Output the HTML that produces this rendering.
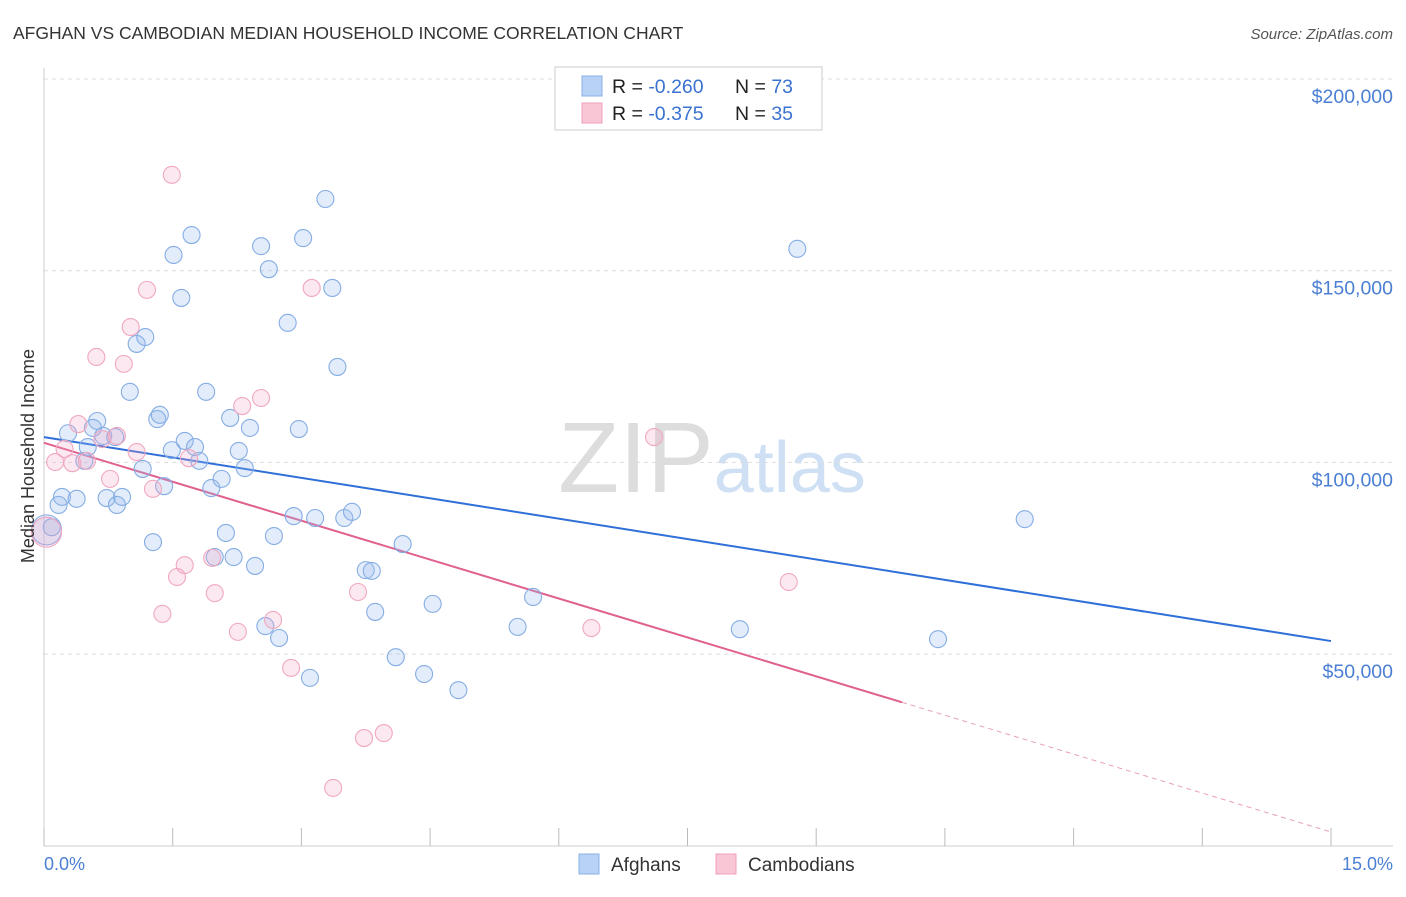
<!DOCTYPE html>
<html><head><meta charset="utf-8"><style>
body{margin:0;background:#fff;font-family:"Liberation Sans",sans-serif;}
svg text{font-family:"Liberation Sans",sans-serif;}
</style></head><body>
<svg id="chart" width="1406" height="892" xmlns="http://www.w3.org/2000/svg">
<text x="13" y="39" font-size="17.5" fill="#333">AFGHAN VS CAMBODIAN MEDIAN HOUSEHOLD INCOME CORRELATION CHART</text>
<text x="1393" y="39" font-size="15" fill="#555" font-style="italic" text-anchor="end">Source: ZipAtlas.com</text>
<text x="712" y="492" font-size="100" text-anchor="middle" fill="#ddd" font-family="Liberation Serif">ZIP<tspan fill="#cfe0f5" font-family="Liberation Sans" font-size="72">atlas</tspan></text>
<g id="grid"></g>
<g id="axes"></g>
<g id="lines"></g>
<g id="pts"></g>
<text transform="translate(34,456) rotate(-90)" font-size="18" fill="#333" text-anchor="middle">Median Household Income</text>
<text x="44" y="870" font-size="18" fill="#4a7fd4">0.0%</text>
<text x="1393" y="870" font-size="18" fill="#4a7fd4" text-anchor="end">15.0%</text>
<g>
<rect x="555" y="67" width="267" height="63" fill="#fff" stroke="#ccc"/>
<rect x="582" y="76" width="20" height="20" fill="#b8d2f5" stroke="#88b0e8"/>
<rect x="582" y="103" width="20" height="20" fill="#f9c6d6" stroke="#f0a0bb"/>
<text x="612" y="93" font-size="19.5" fill="#222">R = <tspan fill="#3a72d0">-0.260</tspan><tspan x="735">N = </tspan><tspan fill="#3a72d0">73</tspan></text>
<text x="612" y="120" font-size="19.5" fill="#222">R = <tspan fill="#3a72d0"> -0.375</tspan><tspan x="735">N = </tspan><tspan fill="#3a72d0">35</tspan></text>
</g>
<g>
<rect x="579" y="854" width="20" height="20" fill="#b8d2f5" stroke="#88b0e8"/>
<text x="611" y="871" font-size="19" fill="#333">Afghans</text>
<rect x="716" y="854" width="20" height="20" fill="#f9c6d6" stroke="#f0a0bb"/>
<text x="748" y="871" font-size="19" fill="#333">Cambodians</text>
</g>
</svg>
<script>
const yTicks=[50000,100000,150000,200000];
const yTickLabels=["$50,000","$100,000","$150,000","$200,000"];
const afgX=[.03,.09,.17,.21,.38,.28,.62,.57,.51,.69,.47,.83,.73,.85,.91,1.00,1.15,1.08,1.18,1.27,1.32,1.35,1.40,1.49,1.51,1.60,1.64,1.72,1.76,1.81,1.89,1.95,1.99,2.07,2.12,2.17,2.21,2.27,2.34,2.40,2.46,2.53,2.58,2.62,2.68,2.74,2.84,2.91,2.97,3.02,3.10,3.16,3.28,3.36,3.42,3.50,3.59,3.75,3.82,3.86,4.10,4.18,4.43,4.53,4.83,5.52,5.70,8.11,8.78,10.42,11.43];
const afgY=[82.4,83.1,88.9,91.0,90.5,107.6,110.8,109.0,104.0,106.9,100.4,106.6,90.7,88.9,91.0,118.4,98.3,130.9,132.7,79.2,111.3,112.4,93.8,103.2,154.1,142.9,105.6,159.3,104.0,100.4,118.4,93.3,75.3,95.7,81.6,111.6,75.3,103.0,98.5,109.0,73.0,156.4,57.3,150.4,80.8,54.2,136.4,86.0,108.7,158.5,43.8,85.5,168.7,145.5,124.9,85.5,87.1,71.9,71.7,61.0,49.2,78.7,44.8,63.1,40.6,57.1,64.9,56.5,155.7,53.9,85.2];
const camX=[.03,.13,.24,.33,.40,.50,.61,.68,.77,.85,.93,1.01,1.08,1.20,1.27,1.38,1.49,1.55,1.64,1.69,1.99,1.96,2.26,2.31,2.53,2.67,2.88,3.12,3.66,3.73,3.96,3.37,6.38,7.11,8.68];
const camY=[81.8,100.1,103.5,99.8,110.0,100.4,127.5,106.1,95.7,106.9,125.7,135.3,102.7,145.0,93.1,60.5,175.0,70.1,73.2,101.1,65.9,75.1,55.8,114.7,116.8,58.9,46.4,145.5,66.2,28.1,29.4,15.1,56.8,106.6,68.8];
const afgTrend=[106.6,53.4];
const camTrend=[105.1,3.6];
const camSolidEnd=10.0;
const NS="http://www.w3.org/2000/svg";
const X=v=>44+v/15*1287;
const Y=k=>79+(200-k)*3.834;
function mk(tag,attrs,parent){const e=document.createElementNS(NS,tag);for(const k in attrs)e.setAttribute(k,attrs[k]);parent.appendChild(e);return e;}
const grid=document.getElementById('grid'),axes=document.getElementById('axes');
yTicks.forEach((t,i)=>{
 const l=mk('line',{x1:44,x2:1393,y1:Y(t/1000),y2:Y(t/1000),stroke:'#ddd','stroke-dasharray':'4,4'},grid);
 
 
 const tx=mk('text',{x:1393,y:Y(t/1000)+24,'font-size':19.5,fill:'#4a7fd4','text-anchor':'end'},axes);
 tx.textContent=yTickLabels[i];
 
 
});
const yax=mk('line',{x1:44,x2:44,y1:68,y2:846,stroke:'#ccc'},axes);


const xax=mk('line',{x1:44,x2:1393,y1:846,y2:846,stroke:'#ccc'},axes);


for(let i=0;i<=10;i++){const tk=mk('line',{x1:X(i*1.5),x2:X(i*1.5),y1:828,y2:846,stroke:'#bbb'},axes);
 
 }
const lines=document.getElementById('lines');
const pts=document.getElementById('pts');
function dots(xs,ys,fill,stroke,name){xs.forEach((x,i)=>{const big=i===0;
 const c=mk('circle',{cx:X(x),cy:Y(ys[i]),r:big?15:8.5,fill:fill,stroke:stroke,'stroke-width':1.1},pts);
 
 });}
dots(afgX,afgY,'rgba(150,188,238,0.28)','#85ade4','afghan-point');
dots(camX,camY,'rgba(245,165,195,0.25)','#f0a8c0','cambodian-point');
const bl=mk('line',{x1:X(0),y1:Y(afgTrend[0]),x2:X(15),y2:Y(afgTrend[1]),stroke:'#2f6fd8','stroke-width':2},lines);


const cy=x=>camTrend[0]+(camTrend[1]-camTrend[0])*x/15;
const pl=mk('line',{x1:X(0),y1:Y(cy(0)),x2:X(camSolidEnd),y2:Y(cy(camSolidEnd)),stroke:'#e0608f','stroke-width':2},lines);


const pd=mk('line',{x1:X(camSolidEnd),y1:Y(cy(camSolidEnd)),x2:X(15),y2:Y(cy(15)),stroke:'#e8a0b8','stroke-width':1,'stroke-dasharray':'5,4'},lines);


</script>
</body></html>
